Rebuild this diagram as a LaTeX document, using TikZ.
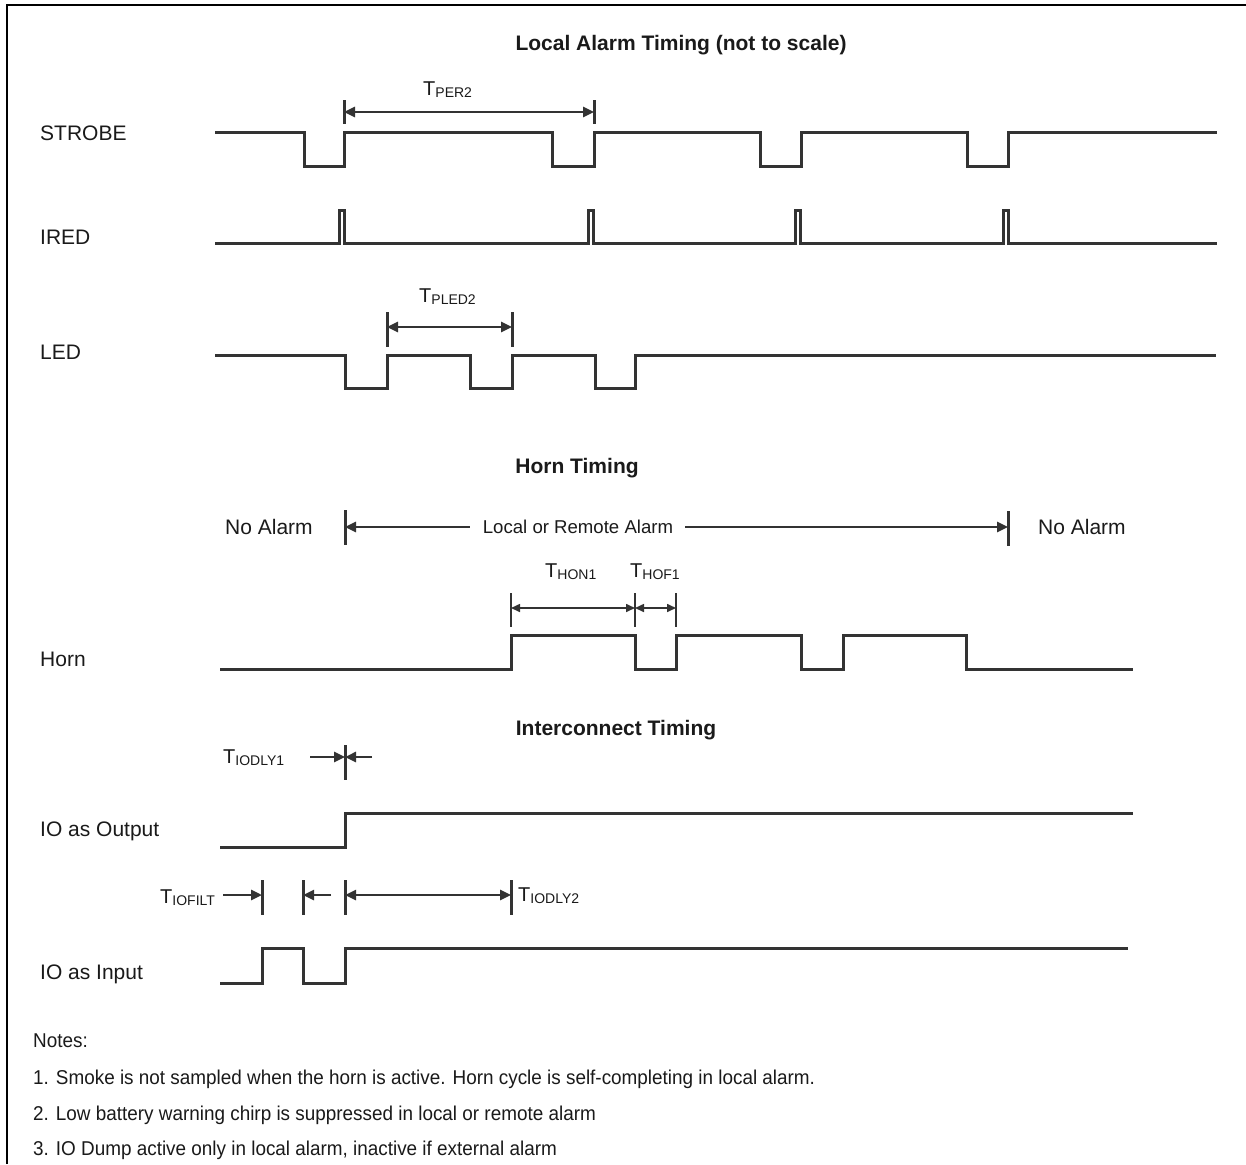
\documentclass[tikz,border=0pt]{standalone}
\usepackage{fontspec}
\setmainfont{Liberation Sans}
\newfontfamily\notesfont[FakeStretch=0.945]{Liberation Sans}
\usetikzlibrary{arrows.meta}
\definecolor{wave}{HTML}{333333}
\definecolor{txt}{HTML}{1A1A1A}
\newcommand{\Tsub}[1]{\fontsize{20}{22}\selectfont T\raisebox{-2pt}{\fontsize{14}{16}\selectfont #1}}
\begin{document}
\begin{tikzpicture}[x=1pt,y=-1pt,
  wavestyle/.style={draw=wave,line width=3pt,line join=miter},
  tickstyle/.style={draw=wave,line width=3pt},
  dimthick/.style={draw=wave,line width=2.5pt,arrows={-Triangle[length=11pt,width=10pt]}},
  dimthickboth/.style={draw=wave,line width=2.5pt,arrows={Triangle[length=11pt,width=10pt]-Triangle[length=11pt,width=10pt]}},
  dimthin/.style={draw=wave,line width=1.6pt,arrows={Triangle[length=9pt,width=8pt]-Triangle[length=9pt,width=8pt]}},
  siglabel/.style={anchor=west,inner sep=0pt,text=txt,font=\fontsize{21}{25}\selectfont},
  title/.style={inner sep=0pt,text=txt,font=\bfseries\fontsize{21}{25}\selectfont},
  tlabel/.style={anchor=base west,inner sep=0pt,text=txt},
  note/.style={anchor=west,inner sep=0pt,text=txt,font=\notesfont\fontsize{20}{24}\selectfont}
]
\useasboundingbox (0,0) rectangle (1246,1164);
\fill[white] (0,0) rectangle (1246,1164);
% border
\draw[black,line width=2pt] (7,1164) -- (7,5) -- (1246,5);

% titles
\node[title] (t1) at (681,45) {Local Alarm Timing (not to scale)};
\node[title] (t2) at (577,468) {Horn Timing};
\node[title] (t3) at (616,730) {Interconnect Timing};

% signal labels
\node[siglabel] (lstrobe) at (40,133) {STROBE};
\node[siglabel] (lired) at (40,237) {IRED};
\node[siglabel] (lled) at (40,352) {LED};
\node[siglabel] (lhorn) at (40,659) {Horn};
\node[siglabel] (lioo) at (40,831) {IO as Output};
\node[siglabel] (lioi) at (40,974) {IO as Input};

% STROBE
\draw[wavestyle] (215,132) -- (304,132) -- (304,166) -- (344,166) -- (344,132) -- (552,132) -- (552,166) -- (594,166) -- (594,132) -- (760,132) -- (760,166) -- (801,166) -- (801,132) -- (967,132) -- (967,166) -- (1008,166) -- (1008,132) -- (1217,132);
% TPER2
\draw[tickstyle] (344,100) -- (344,124);
\draw[tickstyle] (594,100) -- (594,124);
\coordinate (per1) at (344,112); \coordinate (per2) at (594,112);
\draw[dimthickboth] (per1) -- (per2);
\node[tlabel] (lper) at (423,95) {\Tsub{PER2}};

% IRED
\draw[wavestyle] (215,243) -- (339,243) -- (339,210) -- (344,210) -- (344,243) -- (588,243) -- (588,210) -- (593,210) -- (593,243) -- (795,243) -- (795,210) -- (800,210) -- (800,243) -- (1003,243) -- (1003,210) -- (1008,210) -- (1008,243) -- (1217,243);

% LED
\draw[wavestyle] (215,355) -- (345,355) -- (345,388) -- (387,388) -- (387,355) -- (470,355) -- (470,388) -- (512,388) -- (512,355) -- (595,355) -- (595,388) -- (635,388) -- (635,355) -- (1216,355);
\draw[tickstyle] (387,312) -- (387,347);
\draw[tickstyle] (512,312) -- (512,347);
\coordinate (pl1) at (387,327); \coordinate (pl2) at (512,327);
\draw[dimthickboth] (pl1) -- (pl2);
\node[tlabel] (lpled) at (419,302) {\Tsub{PLED2}};

% Horn timing alarm span
\node[siglabel] (na1) at (225,527) {No Alarm};
\node[siglabel] (na2) at (1038,527) {No Alarm};
\node[inner sep=0pt,text=txt,font=\fontsize{18.6}{22}\selectfont] (lra) at (578,527) {Local or Remote Alarm};
\draw[tickstyle] (345,510) -- (345,545);
\draw[tickstyle] (1008,511) -- (1008,546);
\coordinate (al1) at (345,527); \coordinate (al2) at (1008,527);
\draw[dimthick] (lra.west) ++(-13,0) -- (al1);
\draw[dimthick] (lra.east) ++(12,0) -- (al2);

% Horn dims
\draw[tickstyle,line width=2.5pt] (511,593) -- (511,627);
\draw[tickstyle,line width=2.5pt] (635,593) -- (635,627);
\draw[tickstyle,line width=2.5pt] (676,593) -- (676,627);
\coordinate (h1) at (511,608); \coordinate (h2) at (635,608); \coordinate (h3) at (676,608);
\draw[dimthin] (h1) -- (h2);
\draw[dimthin] (h2) -- (h3);
\node[tlabel] (lhon) at (545,577) {\Tsub{HON1}};
\node[tlabel] (lhof) at (630,577) {\Tsub{HOF1}};

% Horn wave
\draw[wavestyle] (220,669) -- (511,669) -- (511,635) -- (635,635) -- (635,669) -- (676,669) -- (676,635) -- (801,635) -- (801,669) -- (843,669) -- (843,635) -- (966,635) -- (966,669) -- (1133,669);

% IODLY1
\node[tlabel] (liodly1) at (223,763) {\Tsub{IODLY1}};
\draw[tickstyle] (345,745) -- (345,780);
\coordinate (d1) at (345,757);
\coordinate (d1l) at (310,757); \coordinate (d1r) at (372,757);
\draw[dimthick] (d1l) -- (d1);
\draw[dimthick] (d1r) -- (d1);

% IO output
\draw[wavestyle] (220,847) -- (345,847) -- (345,813) -- (1133,813);

% IOFILT / IODLY2
\node[tlabel] (liofilt) at (160,903) {\Tsub{IOFILT}};
\node[tlabel] (liodly2) at (518,901) {\Tsub{IODLY2}};
\draw[tickstyle] (262,880) -- (262,915);
\draw[tickstyle] (303,880) -- (303,915);
\draw[tickstyle] (345,880) -- (345,915);
\draw[tickstyle] (511,880) -- (511,915);
\coordinate (f0) at (223,895); \coordinate (f1) at (262,895);
\coordinate (f2) at (303,895); \coordinate (f2r) at (331,895);
\coordinate (f3) at (345,895); \coordinate (f4) at (511,895);
\draw[dimthick] (f0) -- (f1);
\draw[dimthick] (f2r) -- (f2);
\draw[dimthickboth] (f3) -- (f4);

% IO input
\draw[wavestyle] (220,983) -- (262,983) -- (262,948) -- (303,948) -- (303,983) -- (345,983) -- (345,948) -- (1128,948);

% notes
\node[note] (n0) at (33,1041) {Notes:};
\node[note] (n1) at (33,1079) {1. Smoke is not sampled when the horn is active. Horn cycle is self-completing in local alarm.};
\node[note] (n2) at (33,1115) {2. Low battery warning chirp is suppressed in local or remote alarm};
\node[note] (n3) at (33,1150) {3. IO Dump active only in local alarm, inactive if external alarm};
\end{tikzpicture}
\end{document}
